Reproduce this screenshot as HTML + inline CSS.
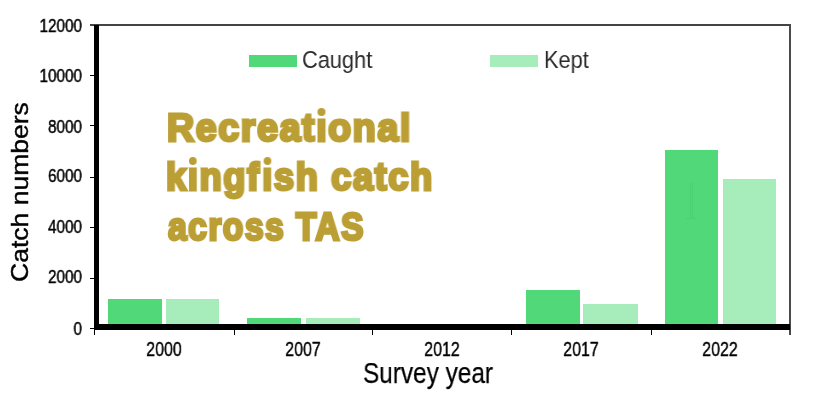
<!DOCTYPE html>
<html><head><meta charset="utf-8">
<style>
html,body{margin:0;padding:0;background:#fff;width:817px;height:402px;overflow:hidden;position:relative}
div{position:absolute;box-sizing:border-box}
.t{font-family:"Liberation Sans",sans-serif;color:#000;white-space:nowrap;line-height:1;will-change:transform}
.yl{-webkit-text-stroke:0.45px #000;font-size:18px;right:735px;transform-origin:100% 50%;transform:scaleX(0.85)}
.xl{-webkit-text-stroke:0.45px #000;font-size:19.5px;width:100px;text-align:center;transform:scaleX(0.82)}
.k{background:#000}
.c{background:#50d879}
.p{background:#a7ecbb}
.di{position:relative}.di::after{content:"";position:absolute;left:50%;margin-left:-4.6px;top:0.6px;width:8px;height:8px;border-radius:50%;background:#bb9f35;-webkit-text-stroke:0}
.g{font-family:"Liberation Sans",sans-serif;font-weight:bold;color:#bb9f35;-webkit-text-stroke:2.9px #bb9f35;font-size:38px;letter-spacing:1.6px;line-height:1;white-space:nowrap;left:167px;transform-origin:0 0;will-change:transform}
</style></head><body>
<!-- frame -->
<div style="left:90px;top:24px;width:701px;height:2px;background:#444"></div>
<div style="left:788.6px;top:24px;width:2px;height:311px;background:#4a4a4a"></div>
<div class="k" style="left:94px;top:25px;width:5px;height:305px"></div>
<div class="k" style="left:94px;top:324px;width:696px;height:5.5px"></div>
<!-- y ticks -->
<div class="k" style="left:90px;top:75px;width:4px;height:1.2px"></div>
<div class="k" style="left:90px;top:124.6px;width:4px;height:1.2px"></div>
<div class="k" style="left:90px;top:176.8px;width:4px;height:1.2px"></div>
<div class="k" style="left:90px;top:226.7px;width:4px;height:1.2px"></div>
<div class="k" style="left:90px;top:278px;width:4px;height:1.2px"></div>
<div class="k" style="left:90px;top:327.8px;width:4px;height:1.2px"></div>
<!-- x ticks -->
<div class="k" style="left:93.8px;top:329px;width:1.2px;height:6px"></div>
<div class="k" style="left:233.5px;top:329px;width:1.2px;height:6px"></div>
<div class="k" style="left:372.3px;top:329px;width:1.2px;height:6px"></div>
<div class="k" style="left:510.7px;top:329px;width:1.2px;height:6px"></div>
<div class="k" style="left:650.7px;top:329px;width:1.2px;height:6px"></div>
<!-- y labels -->
<div class="t yl" style="top:17px">12000</div>
<div class="t yl" style="top:67px">10000</div>
<div class="t yl" style="top:117.5px">8000</div>
<div class="t yl" style="top:167px">6000</div>
<div class="t yl" style="top:218px">4000</div>
<div class="t yl" style="top:268px">2000</div>
<div class="t yl" style="top:320px">0</div>
<!-- x labels -->
<div class="t xl" style="left:114px;top:340px">2000</div>
<div class="t xl" style="left:253.4px;top:340px">2007</div>
<div class="t xl" style="left:392px;top:340px">2012</div>
<div class="t xl" style="left:531.2px;top:340px">2017</div>
<div class="t xl" style="left:670.4px;top:340px">2022</div>
<!-- bars -->
<div class="c" style="left:108px;top:299px;width:54px;height:25px"></div>
<div class="p" style="left:166.3px;top:299px;width:53px;height:25px"></div>
<div class="c" style="left:247.4px;top:317.6px;width:54px;height:6.4px"></div>
<div class="p" style="left:305.8px;top:317.8px;width:54px;height:6.2px"></div>
<div class="c" style="left:526px;top:289.8px;width:53.5px;height:34.2px"></div>
<div class="p" style="left:583.2px;top:303.9px;width:54.7px;height:20.1px"></div>
<div class="c" style="left:664.9px;top:149.6px;width:53.4px;height:174.4px"></div>
<div class="p" style="left:723.2px;top:179.2px;width:53px;height:144.8px"></div>
<div style="left:689.8px;top:183px;width:3px;height:35px;border-left:1px solid rgba(60,170,95,0.18);border-right:1px solid rgba(60,170,95,0.18)"></div>
<div style="left:686px;top:217.5px;width:10px;height:1px;background:rgba(60,170,95,0.15)"></div>
<!-- legend -->
<div class="c" style="left:249.4px;top:55px;width:48px;height:12px"></div>
<div class="t" style="left:302px;top:48px;font-size:23.75px;color:#2a2a2a;transform-origin:0 0;transform:scaleX(0.917)">Caught</div>
<div class="p" style="left:490px;top:55px;width:48px;height:12px"></div>
<div class="t" style="left:543.5px;top:48px;font-size:23.75px;color:#2a2a2a;transform-origin:0 0;transform:scaleX(0.917)">Kept</div>
<!-- axis titles -->
<div class="t" style="left:362.5px;top:358.8px;font-size:28.6px;-webkit-text-stroke:0.25px #000;transform-origin:0 0;transform:scaleX(0.852)">Survey year</div>
<div class="t" style="left:8px;top:282px;font-size:24px;-webkit-text-stroke:0.4px #000;transform-origin:0 0;transform:rotate(-90deg) scaleX(1.105)">Catch numbers</div>
<!-- title -->
<div class="g" style="top:109px;transform:scaleX(0.99)">Recreat<span class="di">ı</span>onal</div>
<div class="g" style="top:158px;left:165.5px;transform:scaleX(0.957)">k<span class="di">ı</span>ng<span style="letter-spacing:3.4px">f</span><span class="di">ı</span>sh catch</div>
<div class="g" style="top:208px;left:168px;transform:scaleX(0.886)">across TAS</div>
</body></html>
